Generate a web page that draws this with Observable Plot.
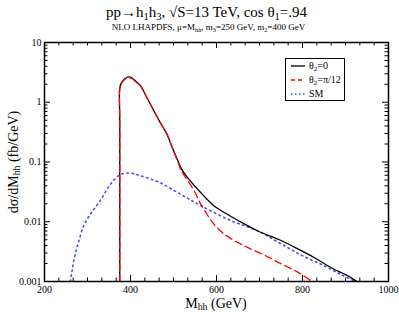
<!DOCTYPE html>
<html><head><meta charset="utf-8">
<script src="https://cdn.jsdelivr.net/npm/d3@7"></script>
<script src="https://cdn.jsdelivr.net/npm/@observablehq/plot@0.6"></script>
<style>
body{margin:0;background:#fff;}
#wrap{position:relative;width:399px;height:312px;font-family:"Liberation Serif","DejaVu Serif",serif;color:#000;}
#wrap svg{position:absolute;left:0;top:0;}
.t{position:absolute;white-space:nowrap;line-height:1;}
sub{font-size:70%;vertical-align:-0.25em;line-height:0;}
#legend{position:absolute;left:285px;top:58px;width:58px;height:41px;border:1px solid #000;background:#fff;}
</style></head><body>
<div id="wrap"></div>
<script>
// θ2 = 0 (black, solid)
const massTheta0  = [375, 375, 375, 375, 375, 378, 385, 392, 398, 405, 412, 423, 438, 453, 469, 485, 497, 509, 516, 530, 545, 563, 580, 593, 620, 650, 671, 700, 749, 780, 826, 870, 900, 927];
const sigmaTheta0 = [0.001, 0.005, 0.05, 0.5, 1.7, 2.05, 2.4, 2.62, 2.65, 2.5, 2.25, 1.9, 1.2, 0.75, 0.46, 0.29, 0.175, 0.11, 0.083, 0.058, 0.043, 0.031, 0.023, 0.0187, 0.014, 0.0105, 0.0087, 0.0068, 0.0049, 0.0038, 0.00255, 0.00165, 0.0013, 0.001];
// θ2 = π/12 (red, dashed)
const massTheta12  = [375, 375, 375, 375, 375, 378, 385, 392, 398, 405, 412, 423, 438, 453, 469, 485, 497, 509, 516, 528, 540, 552, 563, 575, 586, 600, 617, 640, 671, 710, 749, 790, 822];
const sigmaTheta12 = [0.001, 0.005, 0.05, 0.5, 1.7, 2.0, 2.35, 2.52, 2.55, 2.45, 2.2, 1.88, 1.2, 0.75, 0.46, 0.29, 0.175, 0.106, 0.077, 0.055, 0.041, 0.029, 0.020, 0.0145, 0.0108, 0.0082, 0.0063, 0.0049, 0.00375, 0.0028, 0.002, 0.00142, 0.001];
// SM (blue, dotted)
const massSM  = [260, 264, 268, 274, 280, 291, 307, 330, 353, 377, 400, 423, 466, 516, 563, 633, 700, 749, 800, 849, 890, 923];
const sigmaSM = [0.001, 0.0015, 0.0022, 0.0034, 0.0048, 0.0085, 0.0135, 0.0227, 0.042, 0.062, 0.065, 0.059, 0.046, 0.029, 0.0187, 0.0105, 0.0068, 0.0043, 0.0027, 0.00185, 0.0013, 0.001];

const xMajorTicks = [200, 400, 600, 800, 1000];
const yMajorTicks = [0.001, 0.01, 0.1, 1, 10];
const yTickLabels = ["0.001", "0.01", "0.1", "1", "10"];

const toRows = (xs, ys) => xs.map((x, i) => ({x, y: ys[i]}));
const rows0 = toRows(massTheta0, sigmaTheta0);
const rows12 = toRows(massTheta12, sigmaTheta12);
const rowsSM = toRows(massSM, sigmaSM);

const xMinor = d3.range(0, 25).map(k => 200 + k * 200 / 6).filter(v => !xMajorTicks.some(m => Math.abs(m - v) < 1e-6));
const yMinor = [];
for (const d of [0.001, 0.01, 0.1, 1]) for (let m = 2; m <= 9; m++) yMinor.push(d * m);

const W = 399, H = 312, mL = 44, mR = 11, mT = 42, mB = 31;
const pw = W - mL - mR, ph = H - mT - mB;
const big = 6, small = 3.5;
const tk = {stroke: "#000", strokeWidth: 1};

const chart = Plot.plot({
  width: W, height: H,
  marginLeft: mL, marginRight: mR, marginTop: mT, marginBottom: mB,
  style: {fontFamily: "'Liberation Serif', serif", fontSize: "10px", background: "transparent"},
  x: {type: "linear", domain: [200, 1000]},
  y: {type: "log", domain: [0.001, 10]},
  marks: [
    Plot.axisX(xMajorTicks, {tickSize: 0, tickPadding: 4, tickFormat: d => String(d), label: null, fontSize: 10}),
    Plot.axisY(yMajorTicks, {tickSize: 0, tickPadding: 3, tickFormat: d => yTickLabels[yMajorTicks.indexOf(d)], label: null, fontSize: 10}),
    // inward ticks on all four sides
    Plot.tickX(xMajorTicks, {x: d => d, insetTop: ph - big, ...tk}),
    Plot.tickX(xMinor, {x: d => d, insetTop: ph - small, ...tk}),
    Plot.tickX(xMajorTicks, {x: d => d, insetBottom: ph - big, ...tk}),
    Plot.tickX(xMinor, {x: d => d, insetBottom: ph - small, ...tk}),
    Plot.tickY(yMajorTicks, {y: d => d, insetRight: pw - big, ...tk}),
    Plot.tickY(yMinor, {y: d => d, insetRight: pw - small, ...tk}),
    Plot.tickY(yMajorTicks, {y: d => d, insetLeft: pw - big, ...tk}),
    Plot.tickY(yMinor, {y: d => d, insetLeft: pw - small, ...tk}),
    Plot.line(rowsSM, {x: "x", y: "y", curve: "catmull-rom", stroke: "#4a4aff", strokeWidth: 1.6, strokeDasharray: "1.5,3.6", clip: true}),
    Plot.line(rows0, {x: "x", y: "y", curve: "catmull-rom", stroke: "#000", strokeWidth: 1.3, clip: true}),
    Plot.line(rows12, {x: "x", y: "y", curve: "catmull-rom", stroke: "#ff0000", strokeWidth: 1.3, strokeDasharray: "7,4", clip: true}),
    Plot.frame({stroke: "#000", strokeWidth: 1.5})
  ]
});

const wrap = document.getElementById("wrap");
wrap.appendChild(chart);

function addText(html, css) {
  const d = document.createElement("div");
  d.className = "t";
  d.innerHTML = html;
  Object.assign(d.style, css);
  wrap.appendChild(d);
  return d;
}
addText("pp&rarr;h<sub>1</sub>h<sub>3</sub>, &radic;S=13 TeV, cos &theta;<sub>1</sub>=.94",
  {left: "0", width: W + "px", textAlign: "center", top: "5px", fontSize: "15px", paddingLeft: "14px", boxSizing: "border-box"});
addText("NLO LHAPDFS, &mu;=M<sub>hh</sub>, m<sub>3</sub>=250 GeV, m<sub>2</sub>=400 GeV",
  {left: "0", width: W + "px", textAlign: "center", top: "23px", fontSize: "9px", paddingLeft: "18px", boxSizing: "border-box"});
addText("M<sub>hh</sub> (GeV)",
  {left: mL + "px", width: pw + "px", textAlign: "center", top: "297px", fontSize: "14px"});
addText("d&sigma;/dM<sub>hh</sub> (fb/GeV)",
  {left: "14px", top: (mT + ph / 2) + "px", fontSize: "14px", transform: "translate(-50%,-50%) rotate(-90deg)"});

// legend
const legendLabels = ["&theta;<sub>2</sub>=0", "&theta;<sub>2</sub>=&pi;/12", "SM"];
const legendStyles = [
  {stroke: "#000", dash: null, w: 1.3},
  {stroke: "#ff0000", dash: "4,3", w: 1.3},
  {stroke: "#4a4aff", dash: "1.5,2.5", w: 1.6}
];
const lg = document.createElement("div");
lg.id = "legend";
wrap.appendChild(lg);
legendLabels.forEach((lab, i) => {
  const yy = 7 + i * 14;
  const s = legendStyles[i];
  const sv = d3.create("svg").attr("width", 20).attr("height", 6)
    .style("position", "absolute").style("left", "4px").style("top", (yy - 3) + "px");
  sv.append("line").attr("x1", 1).attr("x2", 15).attr("y1", 3).attr("y2", 3)
    .attr("stroke", s.stroke).attr("stroke-width", s.w).attr("stroke-dasharray", s.dash);
  lg.appendChild(sv.node());
  const t = document.createElement("div");
  t.className = "t";
  t.innerHTML = lab;
  Object.assign(t.style, {left: "23px", top: (yy - 5) + "px", fontSize: "10px"});
  lg.appendChild(t);
});
</script>
</body></html>
